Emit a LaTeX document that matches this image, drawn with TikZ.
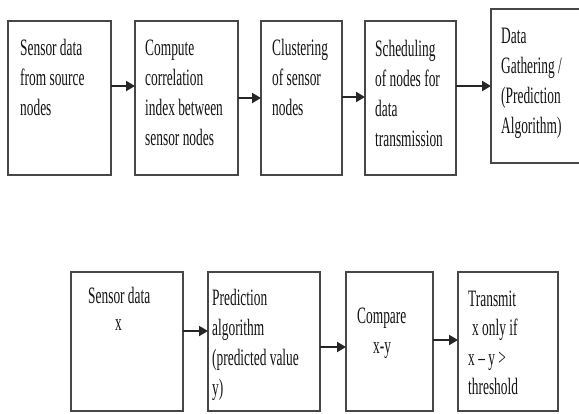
\documentclass[tikz,border=0pt]{standalone}
\usepackage{fontspec}
\setmainfont[FakeStretch=0.57]{Liberation Serif}
\usetikzlibrary{arrows.meta}
\newcommand{\fl}{\rule{0pt}{18pt}}
\begin{document}
\begin{tikzpicture}[x=1pt,y=-1pt,
  box/.style={draw=black!72, line width=1.8pt, inner sep=0pt, outer sep=0pt, fill=white},
  txt/.style={anchor=north west, inner sep=0pt, align=left, text=black!92,
    font=\fontsize{23.5pt}{30pt}\selectfont},
  arr/.style={draw=black!85, line width=2pt, -{Triangle[length=9pt,width=10pt]}}]
\clip (0,0) rectangle (579,413);
\fill[white] (0,0) rectangle (579,413);
% top row
\node[box, minimum width=103pt, minimum height=154pt] (b1) at (59.5,98) {};
\node[box, minimum width=103pt, minimum height=154pt] (b2) at (186.5,98) {};
\node[box, minimum width=81pt, minimum height=154pt] (b3) at (301.5,98) {};
\node[box, minimum width=91pt, minimum height=154pt] (b4) at (410.5,98) {};
\node[box, minimum width=91pt, minimum height=154pt] (b5) at (536.5,86) {};
\node[txt] (t1) at (20,37) {\fl Sensor data\\from source\\nodes};
\node[txt] (t2) at (145,37) {\fl Compute\\correlation\\index between\\sensor nodes};
\node[txt] (t3) at (272,37) {\fl Clustering\\of sensor\\nodes};
\node[txt] (t4) at (375,38) {\fl Scheduling\\of nodes for\\data\\transmission};
\node[txt] (t5) at (501,25.5) {\fl Data\\Gathering /\\(Prediction\\Algorithm)};
\draw[arr] ([yshift=12pt]b1.east) -- ([yshift=12pt]b2.west);
\draw[arr] (b2.east) -- (b3.west);
\draw[arr] ([yshift=1pt]b3.east) -- ([yshift=1pt]b4.west);
\draw[arr] (b5.west -| b4.east) -- (b5.west);
% bottom row
\node[box, minimum width=112pt, minimum height=139pt] (bA) at (127,341.5) {};
\node[box, minimum width=112pt, minimum height=139pt] (bB) at (264,341.5) {};
\node[box, minimum width=87pt, minimum height=139pt] (bC) at (389.5,341.5) {};
\node[box, minimum width=100pt, minimum height=139pt] (bD) at (508,341.5) {};
\node[txt, font=\fontsize{23.5pt}{27.5pt}\selectfont] (tA) at (88,285) {\fl Sensor data\\\hspace*{27pt}x};
\node[txt] (tB) at (212,287) {\fl Prediction\\algorithm\\(predicted value\\y)};
\node[txt] (tC) at (357,305) {\fl Compare\\\hspace*{16pt}x-y};
\node[txt, font=\fontsize{23.5pt}{29.5pt}\selectfont] (tD) at (468,288) {\fl Transmit\\\hspace*{4pt}x only if\\x – y >\\threshold};
\draw[arr] ([yshift=10.5pt]bA.east) -- ([yshift=10.5pt]bB.west);
\draw[arr] ([yshift=-5.5pt]bB.east) -- ([yshift=-5.5pt]bC.west);
\draw[arr] ([yshift=1.5pt]bC.east) -- ([yshift=1.5pt]bD.west);
\end{tikzpicture}
\end{document}
